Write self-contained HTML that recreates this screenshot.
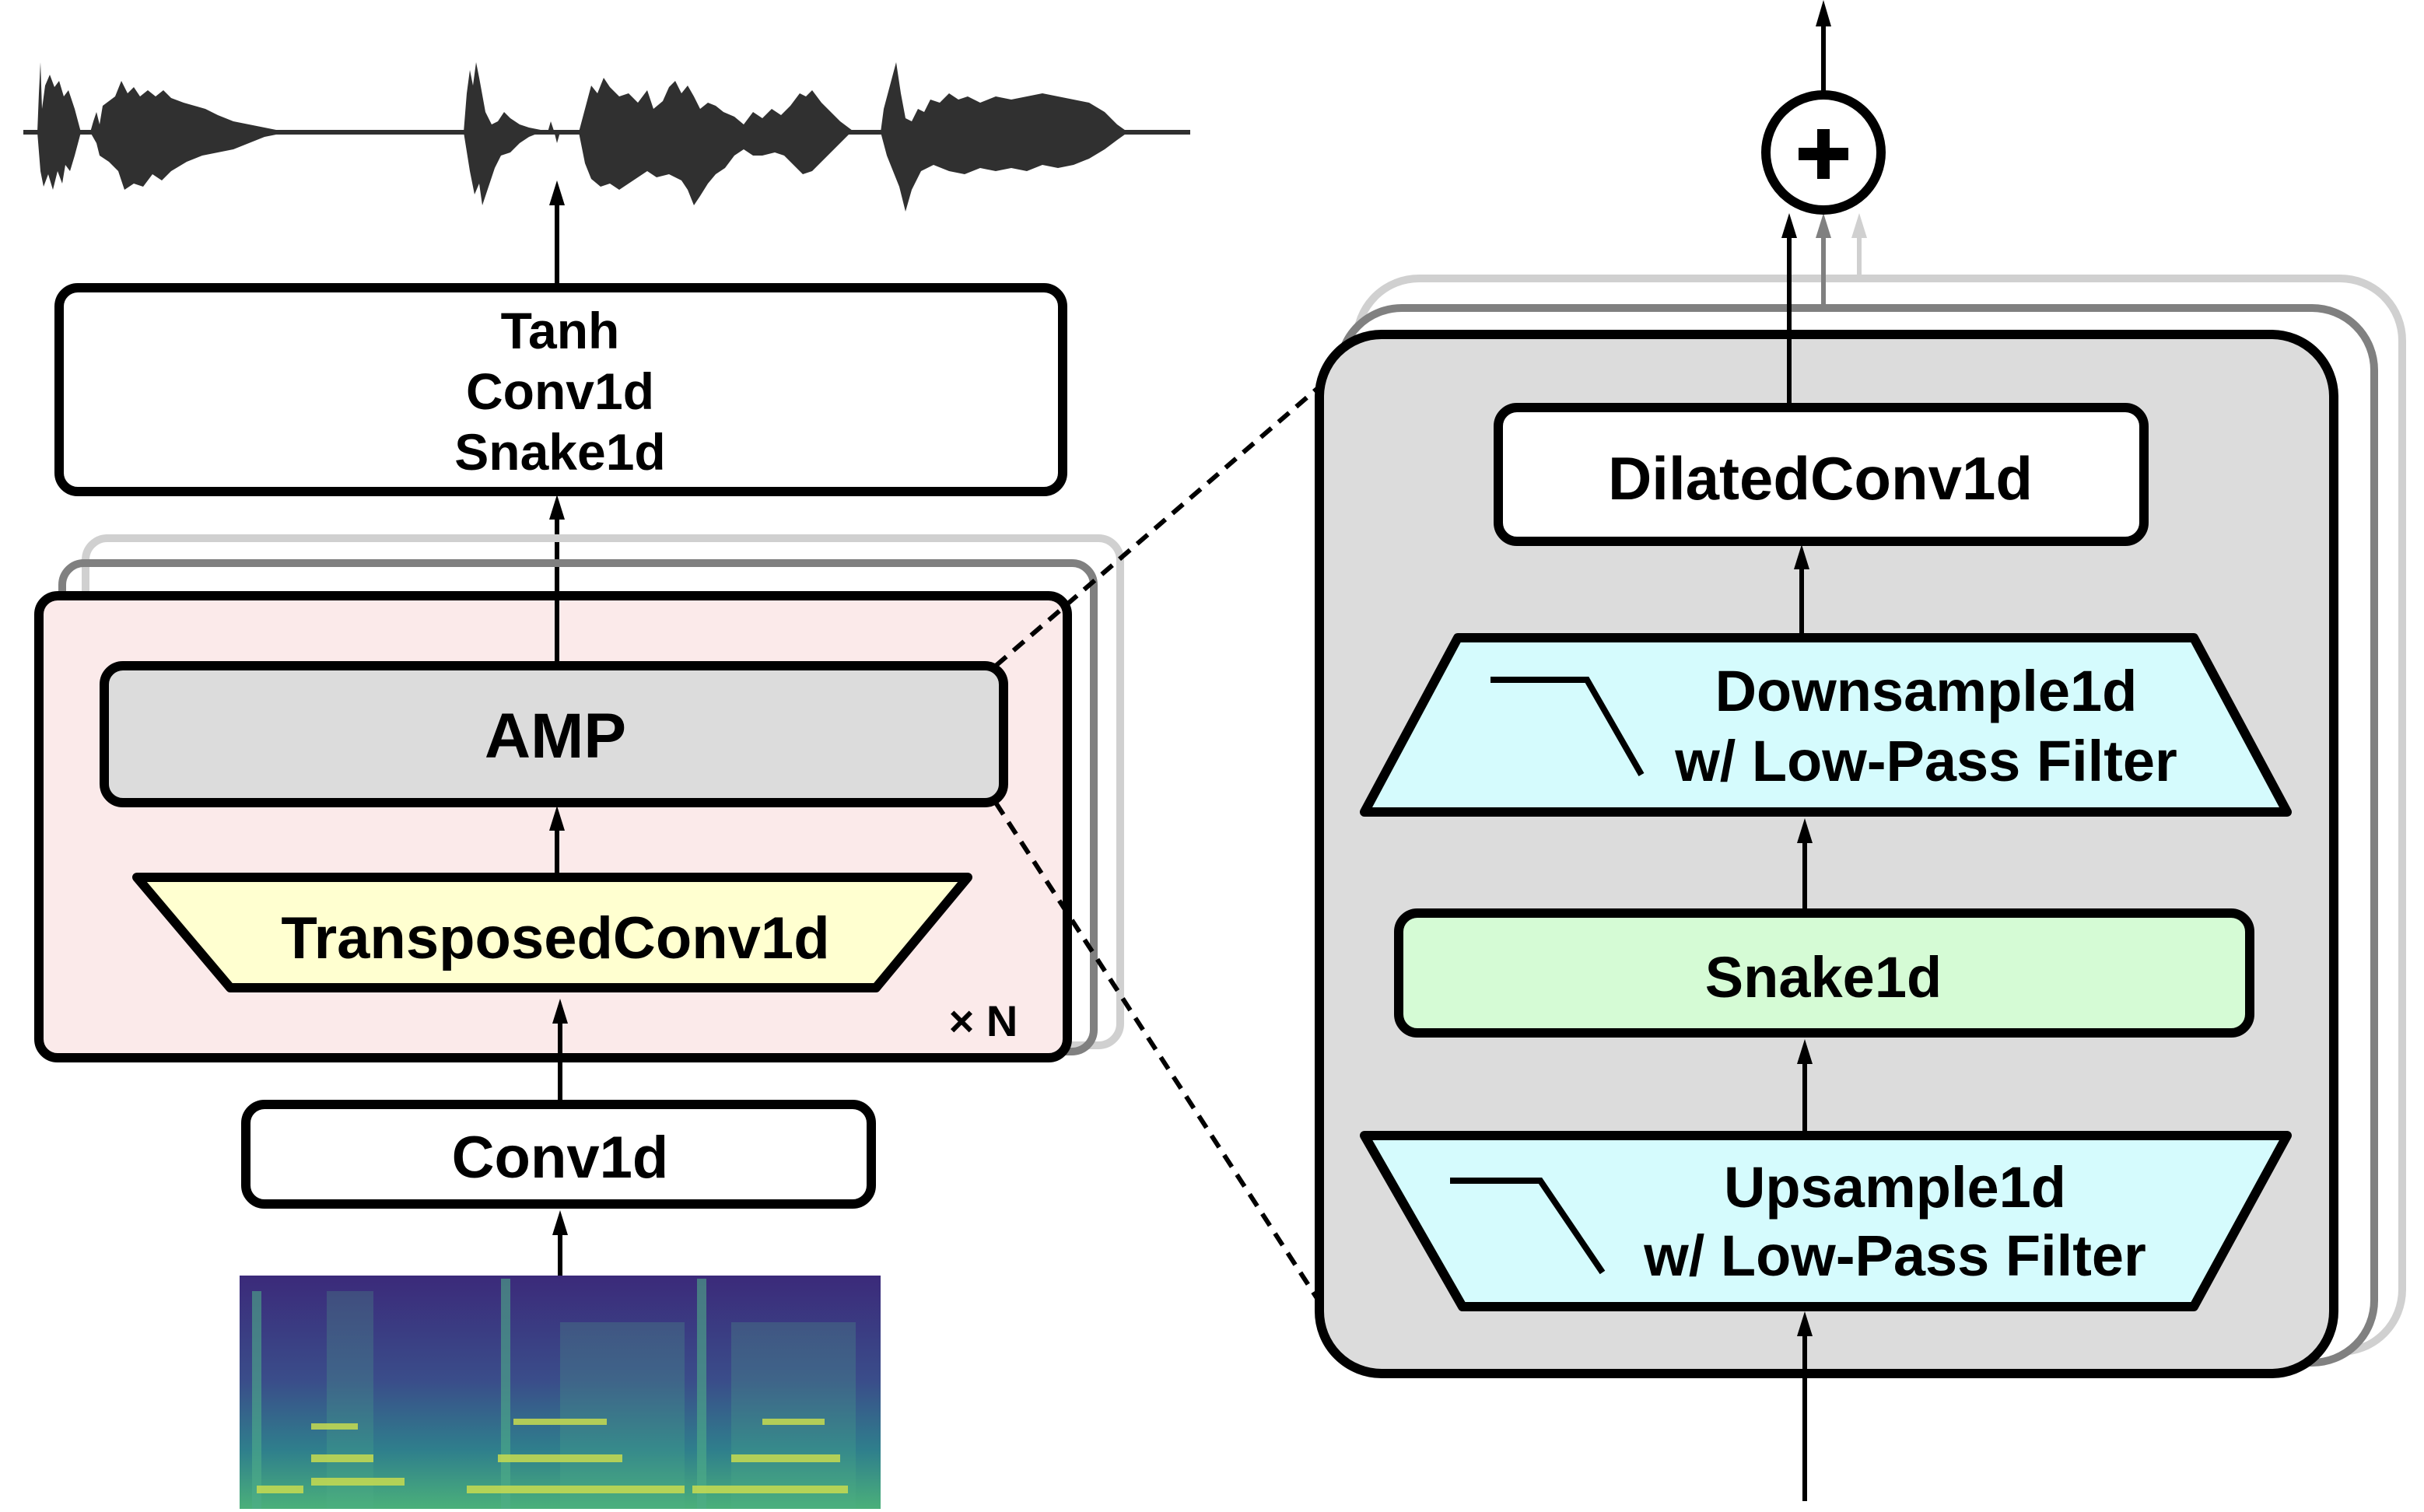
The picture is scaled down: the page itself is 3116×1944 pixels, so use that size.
<!DOCTYPE html>
<html><head><meta charset="utf-8"><style>
html,body{margin:0;padding:0;background:#fff}
svg{display:block}
text{font-family:"Liberation Sans",sans-serif;font-weight:bold;fill:#000;text-anchor:middle}
</style></head><body>
<svg width="3116" height="1944" viewBox="0 0 1558 972" xmlns="http://www.w3.org/2000/svg">
<defs>
<linearGradient id="sp" x1="0" y1="0" x2="0" y2="1">
<stop offset="0" stop-color="#3b2a7a"/><stop offset="0.45" stop-color="#3a4d8a"/><stop offset="0.75" stop-color="#2f7f8c"/><stop offset="1" stop-color="#4bb07a"/></linearGradient>
</defs>

<!-- waveform -->
<g fill="#303030">
<rect x="15" y="83.5" width="750" height="3"/>
<path d="M24,85 L25,60 L26,40 L27,70 L29,55 L32,48 L35,56 L38,52 L41,62 L44,58 L48,70 L52,85 L48,100 L45,110 L42,106 L40,118 L37,110 L34,122 L31,112 L28,120 L26,110 Z"/>
<path d="M58,85 L60,78 L62,72 L64,80 L66,68 L70,65 L74,62 L78,52 L82,60 L86,56 L90,62 L95,58 L100,62 L105,58 L110,63 L118,66 L125,68 L132,70 L140,74 L150,78 L160,80 L170,82 L185,85 L170,88 L160,92 L150,96 L140,98 L130,100 L120,104 L110,110 L104,116 L98,112 L92,120 L86,118 L80,122 L76,110 L70,104 L64,100 L62,92 Z"/>
<path d="M298,85 L300,60 L302,45 L304,55 L306,40 L308,50 L312,72 L316,80 L320,78 L324,72 L328,76 L334,80 L340,82 L350,84 L340,88 L334,92 L328,98 L322,100 L318,108 L314,120 L310,132 L308,118 L305,125 L302,110 Z"/>
<path d="M352,85 L354,78 L356,84 L358,92 L360,85 Z"/>
<path d="M372,85 L376,70 L380,55 L384,60 L388,50 L392,56 L398,62 L404,60 L410,66 L416,58 L420,70 L426,65 L430,56 L434,52 L438,60 L442,55 L446,62 L450,70 L455,66 L460,68 L465,72 L472,75 L478,80 L484,72 L490,76 L496,70 L502,74 L508,68 L514,60 L518,62 L522,58 L528,66 L534,72 L540,78 L548,84 L540,92 L534,98 L528,104 L522,110 L516,112 L510,106 L504,100 L498,98 L490,100 L484,100 L478,96 L472,100 L466,108 L460,112 L455,118 L450,126 L446,132 L442,122 L438,116 L430,112 L422,114 L416,110 L410,114 L404,118 L398,122 L392,118 L386,120 L380,115 L376,105 Z"/>
<path d="M566,85 L568,70 L572,55 L576,40 L579,60 L582,76 L586,78 L590,70 L594,72 L598,64 L604,66 L610,60 L616,64 L622,62 L630,66 L640,62 L650,64 L660,62 L670,60 L680,62 L690,64 L700,66 L710,72 L718,80 L725,85 L718,90 L710,96 L700,102 L690,106 L680,108 L670,106 L660,110 L650,108 L640,110 L630,108 L620,112 L610,110 L600,106 L592,110 L586,122 L582,136 L578,120 L574,110 L570,100 Z"/>
</g>

<g stroke="#000" stroke-width="3">
<line x1="358" y1="183" x2="358" y2="128"/>
<line x1="358" y1="428" x2="358" y2="330"/>
<line x1="358" y1="562" x2="358" y2="530"/>
<line x1="360" y1="710" x2="360" y2="654"/>
<line x1="360" y1="822" x2="360" y2="790"/>
</g>
<g fill="#000">
<polygon points="353,132 358,116 363,132"/>
<polygon points="353,334 358,318 363,334"/>
<polygon points="355,794 360,778 365,794"/>
</g>

<!-- Tanh box -->
<rect x="38" y="185" width="645" height="131" rx="12" fill="#fff" stroke="#000" stroke-width="6"/>
<text x="360" y="224" font-size="33">Tanh</text>
<text x="360" y="263" font-size="33">Conv1d</text>
<text x="360" y="302" font-size="33">Snake1d</text>

<!-- left stack -->
<rect x="55" y="346" width="665" height="326" rx="14" fill="none" stroke="#d0d0d0" stroke-width="5"/>
<rect x="40" y="362" width="663" height="314" rx="14" fill="none" stroke="#808080" stroke-width="5"/>
<rect x="25" y="383" width="661" height="297" rx="12" fill="#fbeaea" stroke="#000" stroke-width="6"/>
<text x="632" y="666" font-size="28">× N</text>
<line x1="358" y1="428" x2="358" y2="383" stroke="#000" stroke-width="3"/>
<line x1="360" y1="680" x2="360" y2="654" stroke="#000" stroke-width="3"/>
<polygon points="355,658 360,642 365,658" fill="#000"/>

<rect x="67" y="428" width="578" height="88" rx="12" fill="#dcdcdc" stroke="#000" stroke-width="6"/>
<text x="357" y="487" font-size="41">AMP</text>
<line x1="358" y1="562" x2="358" y2="530" stroke="#000" stroke-width="3"/>
<polygon points="353,534 358,518 363,534" fill="#000"/>
<polygon points="88,564 622,564 563,635 148,635" fill="#ffffd0" stroke="#000" stroke-width="6" stroke-linejoin="round"/>
<text x="357" y="616" font-size="38">TransposedConv1d</text>
<rect x="158" y="710" width="402" height="64" rx="12" fill="#fff" stroke="#000" stroke-width="6"/>
<text x="360" y="757" font-size="38">Conv1d</text>

<!-- spectrogram -->
<rect x="154" y="820" width="412" height="150" fill="url(#sp)"/>
<g fill="#4fae88" opacity="0.6">
<rect x="162" y="830" width="6" height="140"/><rect x="322" y="822" width="6" height="148"/><rect x="448" y="822" width="6" height="148"/>
<rect x="210" y="830" width="30" height="140" opacity="0.4"/><rect x="360" y="850" width="80" height="120" opacity="0.4"/><rect x="470" y="850" width="80" height="120" opacity="0.4"/>
</g>
<g fill="#c8dc50" opacity="0.85">
<rect x="165" y="955" width="30" height="5"/><rect x="200" y="950" width="60" height="5"/><rect x="300" y="955" width="140" height="5"/><rect x="445" y="955" width="100" height="5"/>
<rect x="200" y="935" width="40" height="5"/><rect x="320" y="935" width="80" height="5"/><rect x="470" y="935" width="70" height="5"/>
<rect x="200" y="915" width="30" height="4"/><rect x="330" y="912" width="60" height="4"/><rect x="490" y="912" width="40" height="4"/>
</g>

<!-- dashed -->
<line x1="640" y1="428" x2="858" y2="240" stroke="#000" stroke-width="3" stroke-dasharray="9,6"/>
<line x1="640" y1="516" x2="850" y2="840" stroke="#000" stroke-width="3" stroke-dasharray="9,6"/>

<!-- right stack -->
<rect x="872" y="179" width="672" height="690" rx="40" fill="#fff" stroke="#d0d0d0" stroke-width="5"/>
<rect x="861" y="198" width="665" height="678" rx="40" fill="#fff" stroke="#808080" stroke-width="5"/>
<rect x="848" y="215" width="652" height="668" rx="40" fill="#dcdcdc" stroke="#000" stroke-width="6"/>

<line x1="1195" y1="180" x2="1195" y2="150" stroke="#d0d0d0" stroke-width="3"/>
<polygon points="1190,153 1195,137 1200,153" fill="#d0d0d0"/>
<line x1="1172" y1="198" x2="1172" y2="150" stroke="#808080" stroke-width="3"/>
<polygon points="1167,153 1172,137 1177,153" fill="#808080"/>
<line x1="1150" y1="262" x2="1150" y2="150" stroke="#000" stroke-width="3"/>
<polygon points="1145,153 1150,137 1155,153" fill="#000"/>
<circle cx="1172" cy="98" r="37" fill="#fff" stroke="#000" stroke-width="6"/>
<rect x="1156" y="95" width="32" height="8"/><rect x="1168" y="83" width="8" height="32"/>
<line x1="1172" y1="60" x2="1172" y2="14" stroke="#000" stroke-width="3"/>
<polygon points="1167,17 1172,0 1177,17" fill="#000"/>

<rect x="963" y="262" width="415" height="86" rx="12" fill="#fff" stroke="#000" stroke-width="6"/>
<text x="1170" y="321" font-size="39">DilatedConv1d</text>
<line x1="1158" y1="408" x2="1158" y2="362" stroke="#000" stroke-width="3"/>
<polygon points="1153,366 1158,350 1163,366" fill="#000"/>

<polygon points="937,410 1410,410 1470,522 877,522" fill="#d5fbfd" stroke="#000" stroke-width="6" stroke-linejoin="round"/>
<path d="M958,437 L1020,437 L1055,498" fill="none" stroke="#000" stroke-width="4"/>
<text x="1238" y="457" font-size="37">Downsample1d</text>
<text x="1238" y="502" font-size="37">w/ Low-Pass Filter</text>
<line x1="1160" y1="585" x2="1160" y2="538" stroke="#000" stroke-width="3"/>
<polygon points="1155,542 1160,526 1165,542" fill="#000"/>

<rect x="899" y="587" width="547" height="77" rx="12" fill="#d5fbd5" stroke="#000" stroke-width="6"/>
<text x="1172" y="641" font-size="37">Snake1d</text>
<line x1="1160" y1="728" x2="1160" y2="680" stroke="#000" stroke-width="3"/>
<polygon points="1155,684 1160,668 1165,684" fill="#000"/>

<polygon points="877,730 1470,730 1410,840 940,840" fill="#d5fbfd" stroke="#000" stroke-width="6" stroke-linejoin="round"/>
<path d="M932,759 L990,759 L1030,818" fill="none" stroke="#000" stroke-width="4"/>
<text x="1218" y="776" font-size="37">Upsample1d</text>
<text x="1218" y="820" font-size="37">w/ Low-Pass Filter</text>
<line x1="1160" y1="965" x2="1160" y2="855" stroke="#000" stroke-width="3"/>
<polygon points="1155,859 1160,843 1165,859" fill="#000"/>
</svg>
</body></html>
